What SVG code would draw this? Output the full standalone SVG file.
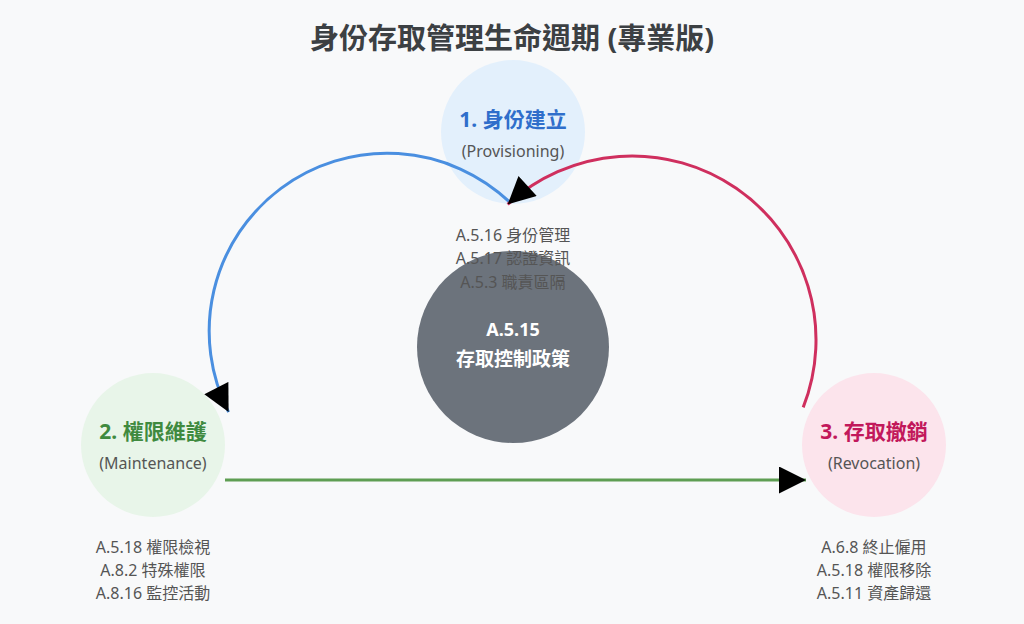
<svg xmlns="http://www.w3.org/2000/svg" width="1024" height="624" viewBox="0 0 1024 624">
<defs>
<style>
text{font-family:"Noto Sans","Noto Sans CJK TC",sans-serif;text-anchor:middle}
.title{font-size:29px;font-weight:bold;fill:#3c4043}
.lbl{font-size:21px;font-weight:bold}
.sub{font-size:16px;fill:#555}
.lst{font-size:16px;fill:#555}
.arc{fill:none;stroke-width:3}
</style>
<marker id="ah" viewBox="0 0 10 10" refX="10" refY="5" markerUnits="userSpaceOnUse" markerWidth="28" markerHeight="27" orient="auto">
<path d="M0,0 L10,5 L0,10 z" fill="#000"/>
</marker>
</defs>
<rect width="1024" height="624" fill="#f8f9fa"/>
<text class="title" x="512" y="49">身份存取管理生命週期 (專業版)</text>
<g id="node-provision">
<circle cx="513" cy="132" r="72" fill="#e3f0fc"/>
<text class="lbl" x="513" y="127" fill="#2f6ecb">1. 身份建立</text>
<text class="sub" x="513" y="157">(Provisioning)</text>
</g>
<g id="node-maintenance">
<circle cx="153" cy="445" r="72" fill="#e8f5e9"/>
<text class="lbl" x="153" y="439" fill="#3f8a3f">2. 權限維護</text>
<text class="sub" x="153" y="469">(Maintenance)</text>
</g>
<g id="node-revocation">
<circle cx="874" cy="445" r="72" fill="#fce4ec"/>
<text class="lbl" x="874" y="439" fill="#c2185b">3. 存取撤銷</text>
<text class="sub" x="874" y="469">(Revocation)</text>
</g>
<g id="node-policy">
<circle cx="513" cy="347" r="96" fill="#6c737c"/>
<text x="513" y="336" fill="#fff" style="font-size:18px;font-weight:bold">A.5.15</text>
<text x="513" y="366" fill="#fff" style="font-size:19px;font-weight:bold">存取控制政策</text>
</g>
<g id="list-provision">
<text class="lst" x="513" y="241">A.5.16 身份管理</text>
<text class="lst" x="513" y="264">A.5.17 認證資訊</text>
<text class="lst" x="513" y="288">A.5.3 職責區隔</text>
</g>
<g id="list-maintenance">
<text class="lst" x="153" y="553">A.5.18 權限檢視</text>
<text class="lst" x="153" y="576">A.8.2 特殊權限</text>
<text class="lst" x="153" y="599">A.8.16 監控活動</text>
</g>
<g id="list-revocation">
<text class="lst" x="874" y="553">A.6.8 終止僱用</text>
<text class="lst" x="874" y="576">A.5.18 權限移除</text>
<text class="lst" x="874" y="599">A.5.11 資產歸還</text>
</g>
<g id="connectors">
<path class="arc" stroke="#4a8fe0" d="M510.3 202.7 A178 178 0 0 0 228.6 412.1" marker-end="url(#ah)"/>
<path class="arc" stroke="#5e9e52" d="M225 480 L806 480" marker-end="url(#ah)"/>
<path class="arc" stroke="#cf2f5e" d="M803.2 407.4 A184 184 0 0 0 507.7 204.3" marker-end="url(#ah)"/>
</g>
</svg>
